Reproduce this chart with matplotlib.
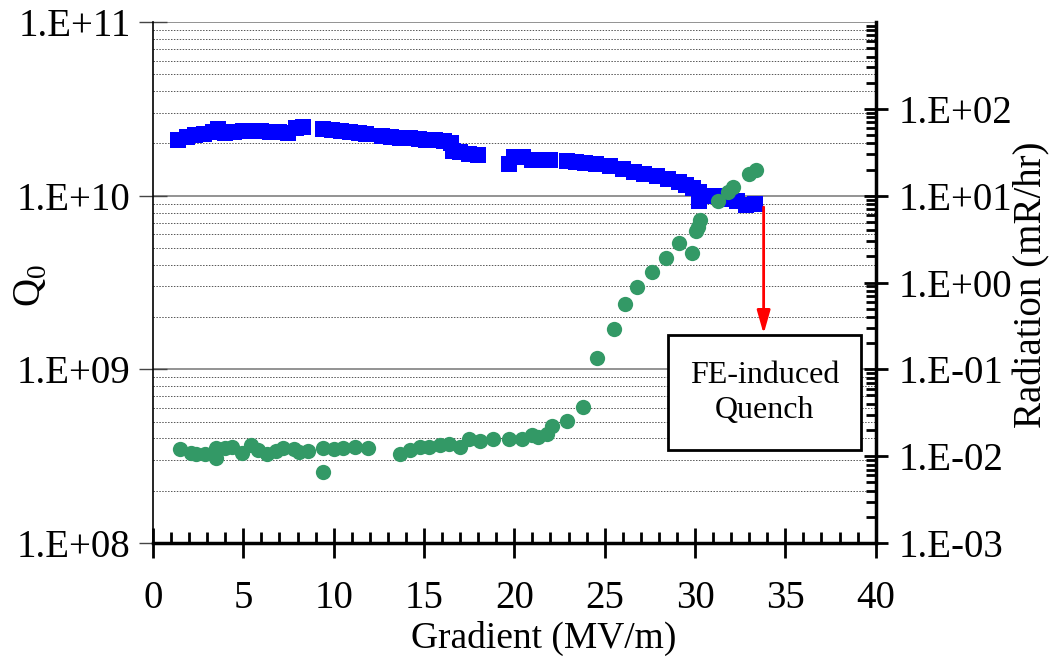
import numpy as np
import matplotlib.pyplot as plt
from matplotlib.patches import Rectangle
from matplotlib.ticker import LogLocator, FixedLocator, NullFormatter, FuncFormatter

# ----------------------------
# Data
# ----------------------------
q0_gradient = [1.4, 1.9, 2.3, 2.8, 3.3, 3.6, 4.0, 4.5, 5.0, 5.5, 6.0, 6.5, 7.0, 7.5,
               7.9, 8.3, 9.4, 9.9, 10.4, 10.9, 11.4, 11.8, 12.7, 13.2, 13.7, 14.2,
               14.7, 15.1, 15.6, 16.1, 16.5, 16.6, 17.0, 17.5, 18.0, 19.7, 20.0,
               20.5, 21.0, 21.5, 22.0, 22.9, 23.4, 23.9, 24.5, 25.3, 26.0, 26.6,
               27.2, 27.9, 28.5, 29.1, 29.5, 29.9, 30.2, 30.2, 30.9, 31.4, 31.9,
               32.3, 32.8, 33.3]
q0_values = [2.09e10, 2.18e10, 2.23e10, 2.26e10, 2.33e10, 2.42e10, 2.30e10, 2.33e10,
             2.36e10, 2.36e10, 2.36e10, 2.33e10, 2.33e10, 2.30e10, 2.45e10, 2.48e10,
             2.42e10, 2.39e10, 2.36e10, 2.33e10, 2.30e10, 2.26e10, 2.20e10, 2.18e10,
             2.15e10, 2.15e10, 2.12e10, 2.09e10, 2.09e10, 2.06e10, 2.00e10, 1.81e10,
             1.79e10, 1.74e10, 1.71e10, 1.52e10, 1.67e10, 1.67e10, 1.61e10, 1.61e10,
             1.61e10, 1.58e10, 1.56e10, 1.54e10, 1.52e10, 1.48e10, 1.42e10, 1.37e10,
             1.33e10, 1.30e10, 1.25e10, 1.20e10, 1.15e10, 1.11e10, 1.05e10, 9.3e9,
             1.00e10, 9.9e9, 9.6e9, 9.3e9, 8.8e9, 8.9e9]

rad_gradient = [1.5, 2.1, 2.4, 2.9, 3.5, 3.5, 4.0, 4.4, 4.9, 5.4, 5.8, 6.3, 6.8, 7.2,
                7.8, 8.1, 8.6, 9.4, 9.4, 10.0, 10.5, 11.2, 11.9, 13.7, 14.2, 14.8,
                15.3, 15.9, 16.4, 17.0, 17.5, 18.1, 18.8, 19.7, 20.4, 21.0, 21.3,
                21.8, 22.1, 22.9, 23.8, 24.6, 25.5, 26.1, 26.8, 27.6, 28.4, 29.1,
                29.85, 30.05, 30.15, 30.3, 31.3, 31.8, 32.1, 33.0, 33.4]
rad_values = [0.0121, 0.0108, 0.0105, 0.0107, 0.0124, 0.0095, 0.0124, 0.0126, 0.0110,
              0.0133, 0.0119, 0.0107, 0.0114, 0.0123, 0.0121, 0.0111, 0.0116, 0.0124,
              0.0066, 0.0121, 0.0123, 0.0126, 0.0123, 0.0105, 0.0117, 0.0127, 0.0127,
              0.0133, 0.0139, 0.0126, 0.0157, 0.0151, 0.0157, 0.0157, 0.0157, 0.0176,
              0.0167, 0.0178, 0.0222, 0.0257, 0.0373, 0.1354, 0.289, 0.562, 0.887,
              1.32, 1.93, 2.88, 2.20, 3.9, 4.4, 5.3, 8.6, 11.0, 12.6, 17.8, 20.0]

box_text = "FE-induced\nQuench"

# ----------------------------
# Figure
# ----------------------------
plt.rcParams["font.family"] = ["Liberation Serif", "DejaVu Serif"]
plt.rcParams["mathtext.fontset"] = "custom"
plt.rcParams["mathtext.rm"] = "Liberation Serif"

fig = plt.figure(figsize=(10.55, 6.59), dpi=100)
ax = fig.add_axes([0.145, 0.176, 0.685, 0.7906])
ax2 = ax.twinx()

# ----------------------------
# Left axis: Q0
# ----------------------------
ax.set_yscale("log")
ax.set_ylim(1e8, 1e11)
ax.set_xlim(0, 40)

ax.yaxis.set_major_locator(FixedLocator([1e8, 1e9, 1e10, 1e11]))
ax.yaxis.set_minor_locator(LogLocator(base=10, subs=np.arange(2, 10)))
ax.yaxis.set_minor_formatter(NullFormatter())

def excel_fmt(v, pos):
    e = int(round(np.log10(v)))
    sign = "+" if e >= 0 else "-"
    return f"1.E{sign}{abs(e):02d}"

ax.yaxis.set_major_formatter(FuncFormatter(excel_fmt))

ax.grid(True, which="major", axis="y", color="#808080", linewidth=1.2, linestyle="-")
ax.grid(True, which="minor", axis="y", color="#555555", linewidth=0.7, linestyle=(0, (1.5, 1.5)))
ax.set_axisbelow(True)

ax.tick_params(axis="y", which="major", direction="inout", length=20, width=1,
               labelsize=28, pad=6, color="#444444")
ax.tick_params(axis="y", which="minor", length=0)

ax.xaxis.set_major_locator(FixedLocator(np.arange(0, 41, 5)))
ax.xaxis.set_minor_locator(FixedLocator(np.arange(0, 41, 1)))
ax.tick_params(axis="x", which="major", direction="inout", length=21, width=2,
               labelsize=28, pad=16)
ax.tick_params(axis="x", which="minor", direction="in", length=8, width=2)

ax.spines["top"].set_visible(False)
ax.spines["right"].set_visible(False)
ax.spines["left"].set_linewidth(1.2)
ax.spines["bottom"].set_linewidth(2.5)

ax.plot(q0_gradient, q0_values, linestyle="none", marker="s", markersize=11,
        color="#0000FF", markeredgewidth=0, zorder=3)

ax.set_xlabel("Gradient (MV/m)", fontsize=27)
ax.xaxis.set_label_coords(0.541, -0.15)
ax.set_ylabel("Q$_0$", fontsize=28)
ax.yaxis.set_label_coords(-0.143, 0.495)

# ----------------------------
# Right axis: Radiation
# ----------------------------
ax2.set_yscale("log")
ax2.set_ylim(1e-3, 1e3)
ax2.yaxis.set_major_locator(FixedLocator([1e-3, 1e-2, 1e-1, 1e0, 1e1, 1e2]))
ax2.yaxis.set_minor_locator(LogLocator(base=10, subs=np.arange(2, 10)))
ax2.yaxis.set_minor_formatter(NullFormatter())
ax2.yaxis.set_major_formatter(FuncFormatter(excel_fmt))
ax2.tick_params(axis="y", which="major", direction="inout", length=17, width=2,
                labelsize=28, pad=8)
ax2.tick_params(axis="y", which="minor", direction="in", length=7, width=2)
ax2.spines["right"].set_linewidth(2.5)
ax2.spines["top"].set_visible(False)
ax2.spines["left"].set_visible(False)
ax2.spines["bottom"].set_visible(False)

ax2.plot(rad_gradient, rad_values, linestyle="none", marker="o", markersize=11,
         color="#339966", markeredgewidth=0, zorder=3)

ax2.set_ylabel("Radiation (mR/hr)", fontsize=28)
ax2.yaxis.set_label_coords(1.19, 0.495)

# ----------------------------
# Annotation: arrow + box
# ----------------------------
ax.annotate("", xy=(33.8, 1.6e9), xytext=(33.8, 8.6e9),
            arrowprops=dict(arrowstyle="-|>,head_length=1.4,head_width=0.4",
                            color="#FF0000", linewidth=2, shrinkA=0, shrinkB=0),
            zorder=5)

rect = Rectangle((28.5, 3.45e8), 10.7, 1.58e9 - 3.45e8, facecolor="white",
                 edgecolor="black", linewidth=2, zorder=4)
ax.add_patch(rect)
ax.text(33.85, 7.3e8, box_text, ha="center", va="center", fontsize=23,
        linespacing=1.25, zorder=6)

fig.savefig("out.png", dpi=100)
